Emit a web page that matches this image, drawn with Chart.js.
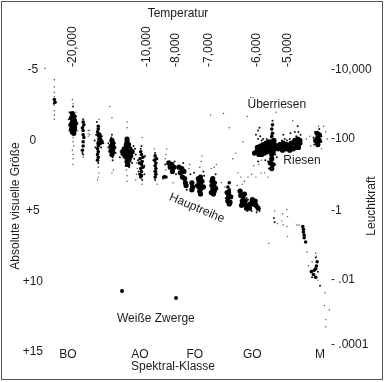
<!DOCTYPE html>
<html>
<head>
<meta charset="utf-8">
<style>
  body { margin: 0; background: #fff; }
  #frame { position: absolute; left: 1px; top: 1px; width: 380px; height: 377px; border: 1px solid #555; }
  #chart { position: absolute; left: 0; top: 0; }
</style>
</head>
<body>
<canvas id="chart" width="385" height="382"></canvas>
<div id="frame"></div>
<script src="https://cdn.jsdelivr.net/npm/chart.js@4"></script>
<script>
// x = position along the spectral sequence (BO = 0, AO = 10 ...), y = absolute magnitude
const spectralTicks = [0, 10, 17.6, 25.6, 35];
const spectralLabels = ['BO', 'AO', 'FO', 'GO', 'M'];
const tempTicks = [0.5, 10.8, 14.9, 19.4, 26.1, 30.4];
const tempLabels = ['-20,000', '-10,000', '-8,000', '-7,000', '-6,000', '-5,000'];
const magTicks = [-5, 0, 5, 10, 15];
const magLabels = ['-5', '0', '+5', '+10', '+15'];
const lumTicks = [-5, -0.1, 5, 9.9, 14.5];
const lumLabels = ['-10,000', '-100', '-1', '- .01', '- .0001'];

const denseStars = [
  [0.6,-1.9],[0.8,-1.7],[0.5,-1.6],[0.9,-1.4],[0.6,-1.3],[1.0,-1.2],[0.4,-1.1],[0.7,-1.0],[0.9,-0.9],[0.5,-0.8],[0.8,-0.7],[0.6,-0.6],[0.8,-0.5],
  [4.3,-0.4],[4.4,-0.1],[4.6,0.1],[4.3,0.2],
  [6.1,0.0],[6.2,0.2],[6.0,0.4],[6.3,0.5],[6.0,0.7],[6.2,0.8],[6.1,1.0],
  [8.2,-0.1],[8.2,0.1],[8.1,0.3],[8.4,0.3],[7.8,0.6],[8.2,0.5],[8.6,0.6],[7.6,0.8],[8.1,0.8],[8.5,0.8],[8.9,0.8],[7.8,1.0],[8.3,1.0],[8.7,1.1],[8.1,1.2],[8.5,1.3],[8.2,1.5],[8.3,1.7],
  [14.0,1.6],[14.4,1.7],[14.7,1.9],[14.2,1.9],[14.5,2.2],
  [15.4,1.9],[15.8,2.0],[16.1,2.2],[15.6,2.3],[15.9,2.6],[16.2,2.7],[16.3,3.0],[16.4,3.2],
  [17.2,3.0],[17.3,3.3],[17.2,3.5],
  [18.4,2.6],[18.2,2.9],[18.6,2.9],[18.4,3.1],[18.2,3.3],[18.5,3.4],[18.3,3.6],[18.4,3.8],[18.0,3.2],[18.8,3.3],[18.1,2.7],
  [20.1,2.7],[20.0,2.9],[20.3,3.0],[20.0,3.2],[20.3,3.3],[20.1,3.5],[20.3,3.6],[20.2,3.8],[19.9,3.7],[20.5,3.4],
  [22.3,3.7],[22.3,4.0],[22.2,4.3],[22.4,4.5],[22.1,3.7],[22.6,4.0],[22.5,4.4],
  [24.0,3.9],[24.3,4.0],[24.2,4.3],[24.6,4.3],[24.3,4.5],[24.7,4.6],[25.3,4.5],[25.7,4.5],[26.1,4.6],[26.4,4.8],
  [23.9,3.6],[24.1,4.6],[24.8,4.8],[25.2,4.8],[24.5,3.8],[25.6,4.2],[26.0,4.3],
  [25.9,0.9],[26.3,0.5],[26.2,0.8],[26.5,1.0],[26.7,0.4],[26.7,0.7],[26.9,1.0],[27.1,0.3],[27.1,0.6],[27.3,0.9],[27.5,0.2],[27.5,0.5],[27.7,0.8],
  [27.9,0.1],[27.9,0.4],[28.1,0.7],[28.3,0.1],[28.3,0.4],[28.5,0.8],[28.7,0.3],[28.7,0.6],[28.6,0.0],[28.9,0.5],
  [28.3,1.0],[28.3,1.3],[28.1,1.6],[28.4,1.7],[28.3,2.0],
  [29.2,0.6],[29.6,0.5],[29.8,0.7],[30.0,0.4],[30.3,0.6],[30.4,0.3],[30.7,0.4],[31.0,0.2],[31.0,0.5],[31.4,0.2],[31.5,0.0],[31.8,0.2],[31.9,-0.1],[32.2,0.0],[32.2,0.2],
  [29.4,0.3],[29.9,0.2],[30.8,0.7],[31.3,0.6],[31.7,0.5],[32.0,0.5],
  [34.6,-0.5],[34.9,-0.4],[34.7,-0.2],[34.4,0.0],[34.9,0.0],[34.6,0.1],[34.7,0.3]
];

const mediumStars = [
  [-1.9,-2.9],[-1.8,-2.7],
  [2.1,-1.3],[2.2,-1.1],[2.0,-0.9],[2.1,-0.7],[2.1,-0.4],[2.2,-0.2],[2.1,0.1],[2.1,0.4],[2.0,0.7],
  [4.2,-1.0],[4.2,-0.8],[4.1,-0.6],[4.2,0.4],[4.1,0.6],[4.2,0.8],[4.1,1.0],[4.2,1.2],[4.1,1.4],
  [10.1,0.8],[10.2,1.0],[10.4,1.2],[10.0,1.3],[10.3,1.5],[9.9,1.6],[10.2,1.7],[10.4,1.9],[10.1,2.0],[10.2,2.2],[10.0,2.4],[10.2,2.5],[10.1,2.6],
  [12.1,1.1],[12.3,1.3],[12.0,1.4],[12.2,1.6],[12.1,1.8],[12.2,2.0],[12.1,2.2],[12.2,2.4],[12.1,2.6],[13.3,2.6],[13.6,2.6],
  [22.4,3.0],[22.2,3.3],[22.4,3.5],
  [28.4,-1.1],[28.3,-0.8],[28.4,-0.5],[28.3,-0.3],
  [32.6,6.1],[32.7,6.3],[32.7,6.5],[32.8,6.7],[32.8,6.9],[33.0,7.2],
  [34.6,8.6],[34.5,8.9],[34.4,9.1],[34.2,9.2],[33.8,9.3],[34.1,9.5],[34.4,9.7]
];

const thinStars = [
  [-2.0,-2.6],[0.2,-2.0],[1.2,-0.7],[0.2,-0.7],[0.7,-2.4],[1.1,-1.7],[0.1,-1.5],[1.3,-1.2],
  [2.1,-1.5],[2.0,0.9],[2.1,1.0],[4.9,0.2],[3.7,0.0],[4.2,1.6],[4.0,-1.3],[3.9,-0.4],[3.8,0.5],[4.7,-0.3],[4.6,0.5],
  [5.6,0.5],[6.6,0.5],[6.2,1.2],[6.0,-0.2],[5.6,0.2],[6.6,0.9],[5.7,0.8],[6.5,0.2],[6.1,-0.4],[6.2,1.4],
  [7.3,0.8],[9.0,0.9],[9.1,0.4],[9.2,1.3],[7.7,1.2],[8.7,1.5],[8.0,1.8],[8.5,1.9],[7.4,1.0],[9.4,1.0],[7.2,1.2],[9.3,0.6],[8.9,1.6],
  [10.2,0.4],[10.3,2.8],[10.7,1.1],[9.7,1.4],[10.6,1.8],[10.1,0.6],[9.8,2.2],[10.6,2.4],
  [12.1,0.9],[12.1,2.8],[12.3,2.2],[13.4,2.5],[13.2,2.7],[13.5,1.7],[15.0,2.4],[14.8,1.5],[16.5,3.5],[16.0,1.6],
  [17.5,2.3],[18.9,2.5],[17.0,2.4],[19.0,3.3],[18.8,2.2],[20.5,2.4],[20.6,3.0],[19.8,3.2],
  [22.7,4.3],[21.9,4.1],[24.0,3.6],[24.8,4.1],[25.0,4.2],[25.4,4.8],[26.6,5.0],[26.2,5.1],[25.5,5.0],[24.9,5.0],
  [28.4,-1.4],[28.2,-0.2],[28.5,-0.1],
  [26.4,-0.7],[26.7,-0.3],[26.4,-0.1],[26.9,0.0],[27.6,-0.1],[26.1,-0.4],[26.6,-0.9],[27.1,-0.1],
  [29.9,-0.4],[30.1,-0.1],[30.4,0.0],[31.5,-0.6],[31.7,-0.3],[31.9,-1.0],[32.0,-0.6],[30.8,-0.1],[30.9,-0.5],[29.7,0.0],[32.3,-0.4],
  [28.8,1.0],[27.8,1.5],[28.8,1.7],[27.9,2.0],[27.4,1.4],[26.4,1.5],[29.0,1.2],
  [28.6,5.5],[28.7,5.8],[35.0,10.3],[34.4,8.3],[34.7,9.3],[33.9,9.7],
  [34.1,-0.2],[35.2,-0.3],[35.2,0.1],[34.3,-0.6],[34.9,-0.8],[34.2,0.3]
];

const faintStars = [
  [-3.9,-5.1],[-3.2,-5.1],[-3.9,-4.1],[-3.9,-3.4],[-3.9,-2.9],[-3.9,-2.6],
  [-1.9,-4.3],[-1.9,-3.8],[-1.9,-3.4],[-1.9,-3.1],[-1.9,-2.5],[-1.9,-2.1],[-1.9,-1.8],[-1.9,-1.5],
  [0.7,-0.2],[0.7,0.1],[0.8,0.4],[0.6,0.7],[0.7,1.0],[0.7,1.3],[0.7,1.7],[0.6,-2.9],[0.7,-2.6],
  [2.8,-0.7],[2.8,-0.5],[2.8,-0.3],[3.0,-0.7],[3.0,-0.4],[2.1,1.2],[1.1,-2.0],
  [4.2,1.9],[4.3,2.3],[4.2,2.6],[4.1,2.8],[4.3,-1.5],[6.3,2.1],[6.1,2.3],[6.1,-1.6],[5.8,-2.4],
  [8.2,-1.3],[8.2,-0.9],[8.1,2.1],[8.2,2.5],[8.2,2.9],[9.5,1.6],[9.6,2.0],[9.5,2.4],[9.4,2.8],[10.3,3.1],[10.3,-0.2],
  [12.0,0.6],[12.4,3.1],[13.7,0.6],[13.6,1.0],[13.5,1.3],[13.6,2.1],[14.6,3.0],[16.8,2.0],[16.9,1.7],
  [18.3,1.9],[18.5,1.5],[18.6,1.1],[20.3,1.9],[19.9,2.0],[20.6,1.7],[21.8,3.3],[21.3,3.0],[23.5,3.2],[24.2,3.1],
  [23.6,2.3],[24.0,2.6],[24.5,2.9],[25.0,2.6],[25.5,2.4],[26.1,2.6],[26.8,2.3],[27.3,2.3],[27.8,2.6],[26.5,1.7],[25.8,1.8],[26.9,1.4],
  [23.3,0.9],[24.3,0.1],[22.4,-0.9],[24.9,-1.7],[25.8,-2.4],[22.9,1.3],[21.6,-1.9],[19.8,-1.8],[28.9,-2.0],[31.2,-1.4],
  [33.6,-0.3],[33.7,0.4],[35.8,-0.6],[36.0,-0.1],[35.5,-1.0],[34.8,-1.0],[35.2,0.6],[33.1,-0.1],
  [28.7,5.0],[29.1,5.9],[29.7,5.7],[29.8,5.2],[29.9,6.0],[30.4,4.9],[30.5,5.4],[30.4,6.1],[30.5,6.8],[27.9,7.3],
  [32.1,6.0],[31.8,6.0],[33.2,7.9],[33.4,8.9],[34.4,8.0],[34.5,8.2],[33.9,8.6],[34.7,9.9],
  [35.7,10.8],[36.3,12.0],[35.6,11.7],[35.8,12.7],[35.8,13.2]
];

const whiteDwarfs = [[7.5,10.67],[15.0,11.17]];

const toPoints = pairs => pairs.map(p => ({ x: p[0], y: p[1] }));
const fixedTicks = values => scale => { scale.ticks = values.map(v => ({ value: v })); };
const tickFont = { family: 'Liberation Sans', size: 12 };
const ink = '#1c1c1c';
const noGrid = { display: false, drawTicks: false };

// free text: labels inside the plot sit on the scales, titles outside go by canvas position
const textPlugin = {
  id: 'texts',
  afterDraw(chart) {
    const c = chart.ctx, sx = chart.scales.x, sy = chart.scales.y;
    const put = (str, x, y, angle) => {
      c.save();
      c.translate(x, y);
      c.rotate((angle || 0) * Math.PI / 180);
      c.font = '12px "Liberation Sans"';
      c.fillStyle = ink;
      c.textAlign = 'center';
      c.textBaseline = 'middle';
      c.fillText(str, 0, 0);
      c.restore();
    };
    put('Überriesen', sx.getPixelForValue(29.0), sy.getPixelForValue(-2.5));
    put('Riesen', sx.getPixelForValue(32.5), sy.getPixelForValue(1.45));
    put('Hauptreihe', sx.getPixelForValue(17.9), sy.getPixelForValue(4.8), 23);
    put('Weiße Zwerge', sx.getPixelForValue(12.2), sy.getPixelForValue(12.65));
    put('Temperatur', 178, 14);
    put('Spektral-Klasse', 173, 367);
    put('Absolute visuelle Größe', 16, 206, -90);
    put('Leuchtkraft', 372, 206, -90);
  }
};

const starSet = (pairs, radius, color) => ({
  data: toPoints(pairs), pointRadius: radius, pointBorderWidth: 0, backgroundColor: color, clip: false
});

new Chart(document.getElementById('chart'), {
  type: 'scatter',
  plugins: [textPlugin],
  data: {
    datasets: [
      starSet(denseStars, 2.6, '#000'),
      starSet(mediumStars, 1.8, '#000'),
      starSet(thinStars, 1, '#111'),
      starSet(faintStars, 0.7, '#444'),
      starSet(whiteDwarfs, 2, '#000')
    ]
  },
  options: {
    responsive: false,
    animation: false,
    layout: { padding: 0 },
    plugins: { legend: { display: false }, tooltip: { enabled: false } },
    scales: {
      x: {
        type: 'linear', position: 'bottom', min: -3.06, max: 36.11,
        grid: noGrid, border: { display: false },
        afterBuildTicks: fixedTicks(spectralTicks),
        afterFit(scale) { scale.height = 35; },
        ticks: {
          font: tickFont, color: ink, padding: 0, maxRotation: 0, autoSkip: false,
          callback: (v, i) => spectralLabels[i]
        }
      },
      x2: {
        type: 'linear', position: 'top', min: -3.06, max: 36.11,
        grid: noGrid, border: { display: false },
        afterBuildTicks: fixedTicks(tempTicks),
        afterFit(scale) { scale.height = 67; },
        ticks: {
          font: tickFont, color: ink, padding: 0, labelOffset: 15, minRotation: 90, maxRotation: 90, autoSkip: false,
          callback: (v, i) => tempLabels[i]
        }
      },
      y: {
        type: 'linear', position: 'left', reverse: true, min: -5.2, max: 14.64,
        grid: noGrid, border: { display: false },
        afterBuildTicks: fixedTicks(magTicks),
        afterFit(scale) { scale.width = 46; },
        ticks: {
          font: tickFont, color: ink, padding: 3, crossAlign: 'center', autoSkip: false,
          callback: (v, i) => magLabels[i]
        }
      },
      y2: {
        type: 'linear', position: 'right', reverse: true, min: -5.2, max: 14.64,
        grid: noGrid, border: { display: false },
        afterBuildTicks: fixedTicks(lumTicks),
        afterFit(scale) { scale.width = 57; },
        ticks: {
          font: tickFont, color: ink, padding: 3, autoSkip: false,
          callback: (v, i) => lumLabels[i]
        }
      }
    }
  }
});
</script>
</body>
</html>
